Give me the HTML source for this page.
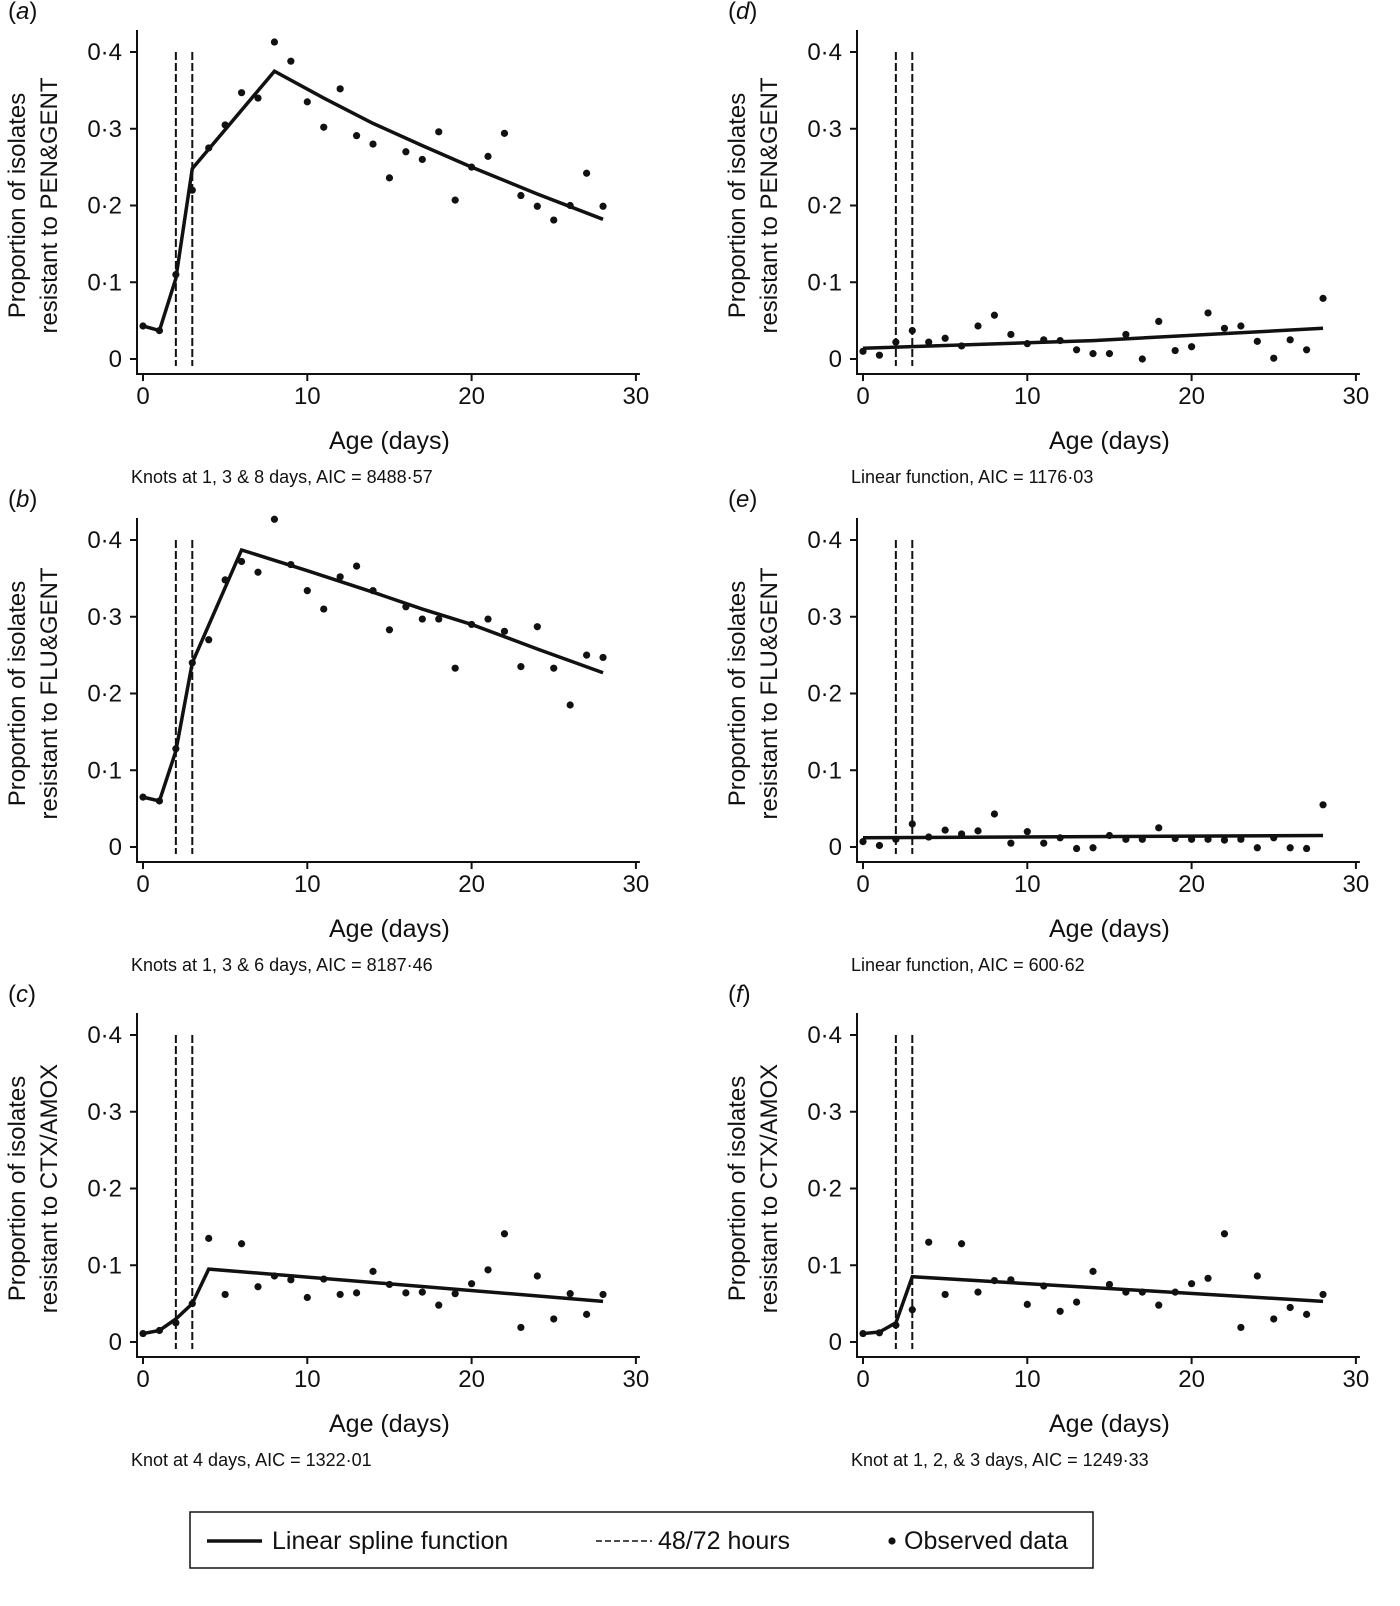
<!DOCTYPE html>
<html><head><meta charset="utf-8"><style>
body{margin:0;background:#fff}
svg text{font-family:"Liberation Sans",Arial,sans-serif;fill:#111}
</style></head><body>
<svg id="c" width="1400" height="1601" xmlns="http://www.w3.org/2000/svg"></svg>
<script>
const days=[...Array(29).keys()];
const obsA=[.043,.037,.11,.22,.275,.305,.347,.34,.413,.388,.335,.302,.352,.291,.28,.236,.27,.26,.296,.207,.25,.264,.294,.213,.199,.181,.20,.242,.199];
const obsB=[.065,.06,.128,.24,.27,.348,.372,.358,.427,.368,.334,.31,.352,.366,.334,.283,.313,.297,.297,.233,.29,.297,.281,.235,.287,.233,.185,.25,.247];
const obsC=[.011,.015,.025,.05,.135,.062,.128,.072,.086,.081,.058,.082,.062,.064,.092,.075,.064,.065,.048,.063,.076,.094,.141,.019,.086,.03,.063,.036,.062];
const obsD=[.01,.005,.022,.037,.022,.027,.017,.043,.057,.032,.02,.025,.024,.012,.007,.007,.032,0,.049,.011,.016,.06,.04,.043,.023,.001,.025,.012,.079];
const obsE=[.007,.002,.01,.03,.013,.022,.017,.021,.043,.005,.02,.005,.012,-.002,-.001,.015,.01,.01,.025,.011,.01,.01,.009,.01,-.001,.012,-.001,-.002,.055];
const obsF=[.011,.012,.022,.042,.13,.062,.128,.065,.08,.081,.049,.073,.04,.052,.092,.075,.065,.065,.048,.065,.076,.083,.141,.019,.086,.03,.045,.036,.062];
const fitXA=[0,1,2,3,8,11,14,17,20,24,28], fitYA=[.043,.037,.105,.248,.375,.34,.307,.278,.25,.215,.182];
const fitXB=[0,1,2,3,6,10,14,17,20,24,28], fitYB=[.065,.06,.125,.24,.387,.36,.332,.31,.29,.258,.227];
const fitXC=[0,1,2,3,4,28], fitYC=[.011,.015,.03,.05,.095,.053];
const fitXD=[0,14,28], fitYD=[.014,.024,.04];
const fitXE=[0,28], fitYE=[.012,.015];
const fitXF=[0,1,2,3,28], fitYF=[.011,.013,.025,.085,.053];
const yTicks=[0,.1,.2,.3,.4], yTickLabels=["0","0·1","0·2","0·3","0·4"];
const xTicks=[0,10,20,30];
const panels=[
 {id:"a",x0:143,y0:359,obs:obsA,fx:fitXA,fy:fitYA,t2:"resistant to PEN&GENT",cap:"Knots at 1, 3 & 8 days, AIC = 8488·57"},
 {id:"b",x0:143,y0:847,obs:obsB,fx:fitXB,fy:fitYB,t2:"resistant to FLU&GENT",cap:"Knots at 1, 3 & 6 days, AIC = 8187·46"},
 {id:"c",x0:143,y0:1342,obs:obsC,fx:fitXC,fy:fitYC,t2:"resistant to CTX/AMOX",cap:"Knot at 4 days, AIC = 1322·01"},
 {id:"d",x0:863,y0:359,obs:obsD,fx:fitXD,fy:fitYD,t2:"resistant to PEN&GENT",cap:"Linear function, AIC = 1176·03"},
 {id:"e",x0:863,y0:847,obs:obsE,fx:fitXE,fy:fitYE,t2:"resistant to FLU&GENT",cap:"Linear function, AIC = 600·62"},
 {id:"f",x0:863,y0:1342,obs:obsF,fx:fitXF,fy:fitYF,t2:"resistant to CTX/AMOX",cap:"Knot at 1, 2, & 3 days, AIC = 1249·33"}];
const svg=document.getElementById('c');const NS="http://www.w3.org/2000/svg";
function mk(tag,attrs,parent,text){const e=document.createElementNS(NS,tag);for(const k in attrs)e.setAttribute(k,attrs[k]);if(text!==undefined)e.textContent=text;parent.appendChild(e);return e;}
panels.forEach(p=>{
 const g=mk('g',{},svg);
 
 
 const sx=d=>p.x0+d*16.43, sy=v=>p.y0-v*767.5;
 const top=sy(.4), ax=p.x0-6;
 const xl=p.y0+15;
 const yax=mk('line',{x1:ax,y1:top-22,x2:ax,y2:xl,stroke:'#111','stroke-width':2},g);
 
 
 yTicks.forEach((v,i)=>{mk('line',{x1:ax-7,y1:sy(v),x2:ax,y2:sy(v),stroke:'#111','stroke-width':2},g);
  const t=mk('text',{x:ax-15,y:sy(v)+8,'font-size':24,'text-anchor':'end'},g,yTickLabels[i]);
  
  });
 const xax=mk('line',{x1:ax-1,y1:xl,x2:sx(30)+4,y2:xl,stroke:'#111','stroke-width':2},g);
 
 
 xTicks.forEach(d=>{mk('line',{x1:sx(d),y1:xl,x2:sx(d),y2:xl+7,stroke:'#111','stroke-width':2},g);
  const t=mk('text',{x:sx(d),y:p.y0+45,'font-size':24,'text-anchor':'middle'},g,String(d));
  
  });
 const xt=mk('text',{x:sx(15),y:p.y0+90,'font-size':25,'text-anchor':'middle'},g,'Age (days)');
 
 
 const cy=sy(.2), lx=p.x0-118;
 const yt=mk('text',{transform:`translate(${lx},${cy}) rotate(-90)`,'font-size':24,'text-anchor':'middle'},g);
 
 
 mk('tspan',{x:0,y:0},yt,'Proportion of isolates');mk('tspan',{x:0,y:32},yt,p.t2);
 const lab=mk('text',{x:p.x0-135,y:p.y0-340,'font-size':24},g);
 
 
 mk('tspan',{},lab,'(');mk('tspan',{'font-style':'italic'},lab,p.id);mk('tspan',{},lab,')');
 const cap=mk('text',{x:p.x0-12,y:p.y0+124,'font-size':18},g,p.cap);
 
 
 [2,3].forEach(d=>{const l=mk('line',{x1:sx(d),y1:top,x2:sx(d),y2:p.y0+7,stroke:'#111','stroke-width':2,'stroke-dasharray':'8,3'},g);
  
  });
 const pl=mk('polyline',{points:p.fx.map((d,i)=>sx(d)+','+sy(p.fy[i])).join(' '),fill:'none',stroke:'#111','stroke-width':3.5},g);
 
 
 p.obs.forEach((v,i)=>{const c=mk('circle',{cx:sx(days[i]),cy:sy(v),r:3.6,fill:'#111'},g);
  
  });
});
const lg=mk('g',{},svg);


mk('rect',{x:190,y:1512,width:903,height:56,fill:'none',stroke:'#111','stroke-width':1.5},lg);
mk('line',{x1:207,y1:1541,x2:262,y2:1541,stroke:'#111','stroke-width':3.5},lg);
mk('text',{x:272,y:1549,'font-size':25},lg,'Linear spline function');
mk('line',{x1:596,y1:1541,x2:652,y2:1541,stroke:'#111','stroke-width':1.5,'stroke-dasharray':'6,3'},lg);
mk('text',{x:658,y:1549,'font-size':25},lg,'48/72 hours');
mk('circle',{cx:892,cy:1541,r:3.6,fill:'#111'},lg);
mk('text',{x:904,y:1549,'font-size':25},lg,'Observed data');
</script>
</body></html>
